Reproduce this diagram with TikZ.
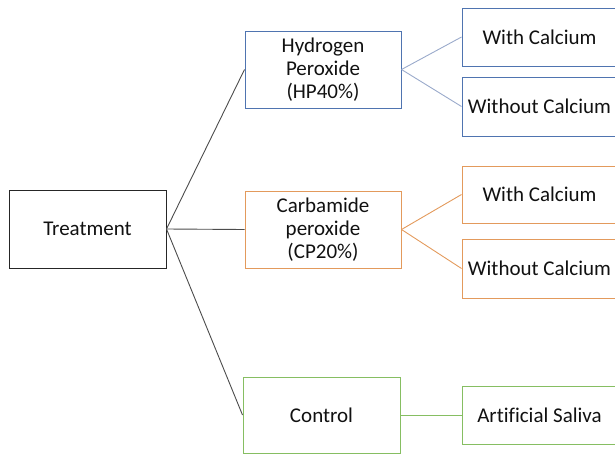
\documentclass[tikz,border=0pt]{standalone}
\usepackage{fontspec}
\setmainfont{Carlito}[Ligatures=NoCommon]
\definecolor{hpblue}{HTML}{4F74B0}
\definecolor{hpline}{HTML}{9AAACB}
\definecolor{cporange}{HTML}{E39A5C}
\definecolor{ctgreen}{HTML}{86BE62}
\definecolor{txt}{HTML}{111111}
\tikzset{
  box/.style={draw, rectangle, line width=1pt, inner sep=0pt, align=center, text=txt,
    font=\fontsize{21}{23}\selectfont},
  conn/.style={line width=0.9pt}
}
\begin{document}
\begin{tikzpicture}[x=1pt,y=-1pt]
\useasboundingbox (0,0) rectangle (615,455);
\clip (0,0) rectangle (615,455);
\node[box, draw=black!85, minimum width=157pt, minimum height=78pt] (tr) at (87.5,229) {Treatment};
\node[box, draw=hpblue, minimum width=156pt, minimum height=77pt] (hp) at (323,69.5) {Hydrogen\\Peroxide\\(HP40\%)};
\node[box, draw=cporange, minimum width=156pt, minimum height=77pt] (cp) at (323,229.5) {Carbamide\\peroxide\\(CP20\%)};
\node[box, draw=ctgreen, minimum width=157pt, minimum height=76pt] (ct) at (321.5,415) {Control};
\node[box, draw=hpblue, minimum width=155pt, minimum height=58pt] (wc1) at (539.5,37) {With Calcium};
\node[box, draw=hpblue, minimum width=155pt, minimum height=59pt] (woc1) at (539.5,106.5) {Without Calcium};
\node[box, draw=cporange, minimum width=155pt, minimum height=57pt] (wc2) at (539.5,194.5) {With Calcium};
\node[box, draw=cporange, minimum width=155pt, minimum height=59pt] (woc2) at (539.5,268.5) {Without Calcium};
\node[box, draw=ctgreen, minimum width=155pt, minimum height=58pt] (as) at (539.5,415) {Artificial Saliva};
\draw[conn, black!70] (tr.east) -- (hp.west);
\draw[conn, black!70] (tr.east) -- (cp.west);
\draw[conn, black!70] (tr.east) -- (ct.west);
\draw[conn, hpline] (hp.east) -- (wc1.west);
\draw[conn, hpline] (hp.east) -- (woc1.west);
\draw[conn, cporange] (cp.east) -- (wc2.west);
\draw[conn, cporange] (cp.east) -- (woc2.west);
\draw[conn, ctgreen] (ct.east) -- (as.west);
\end{tikzpicture}
\end{document}
